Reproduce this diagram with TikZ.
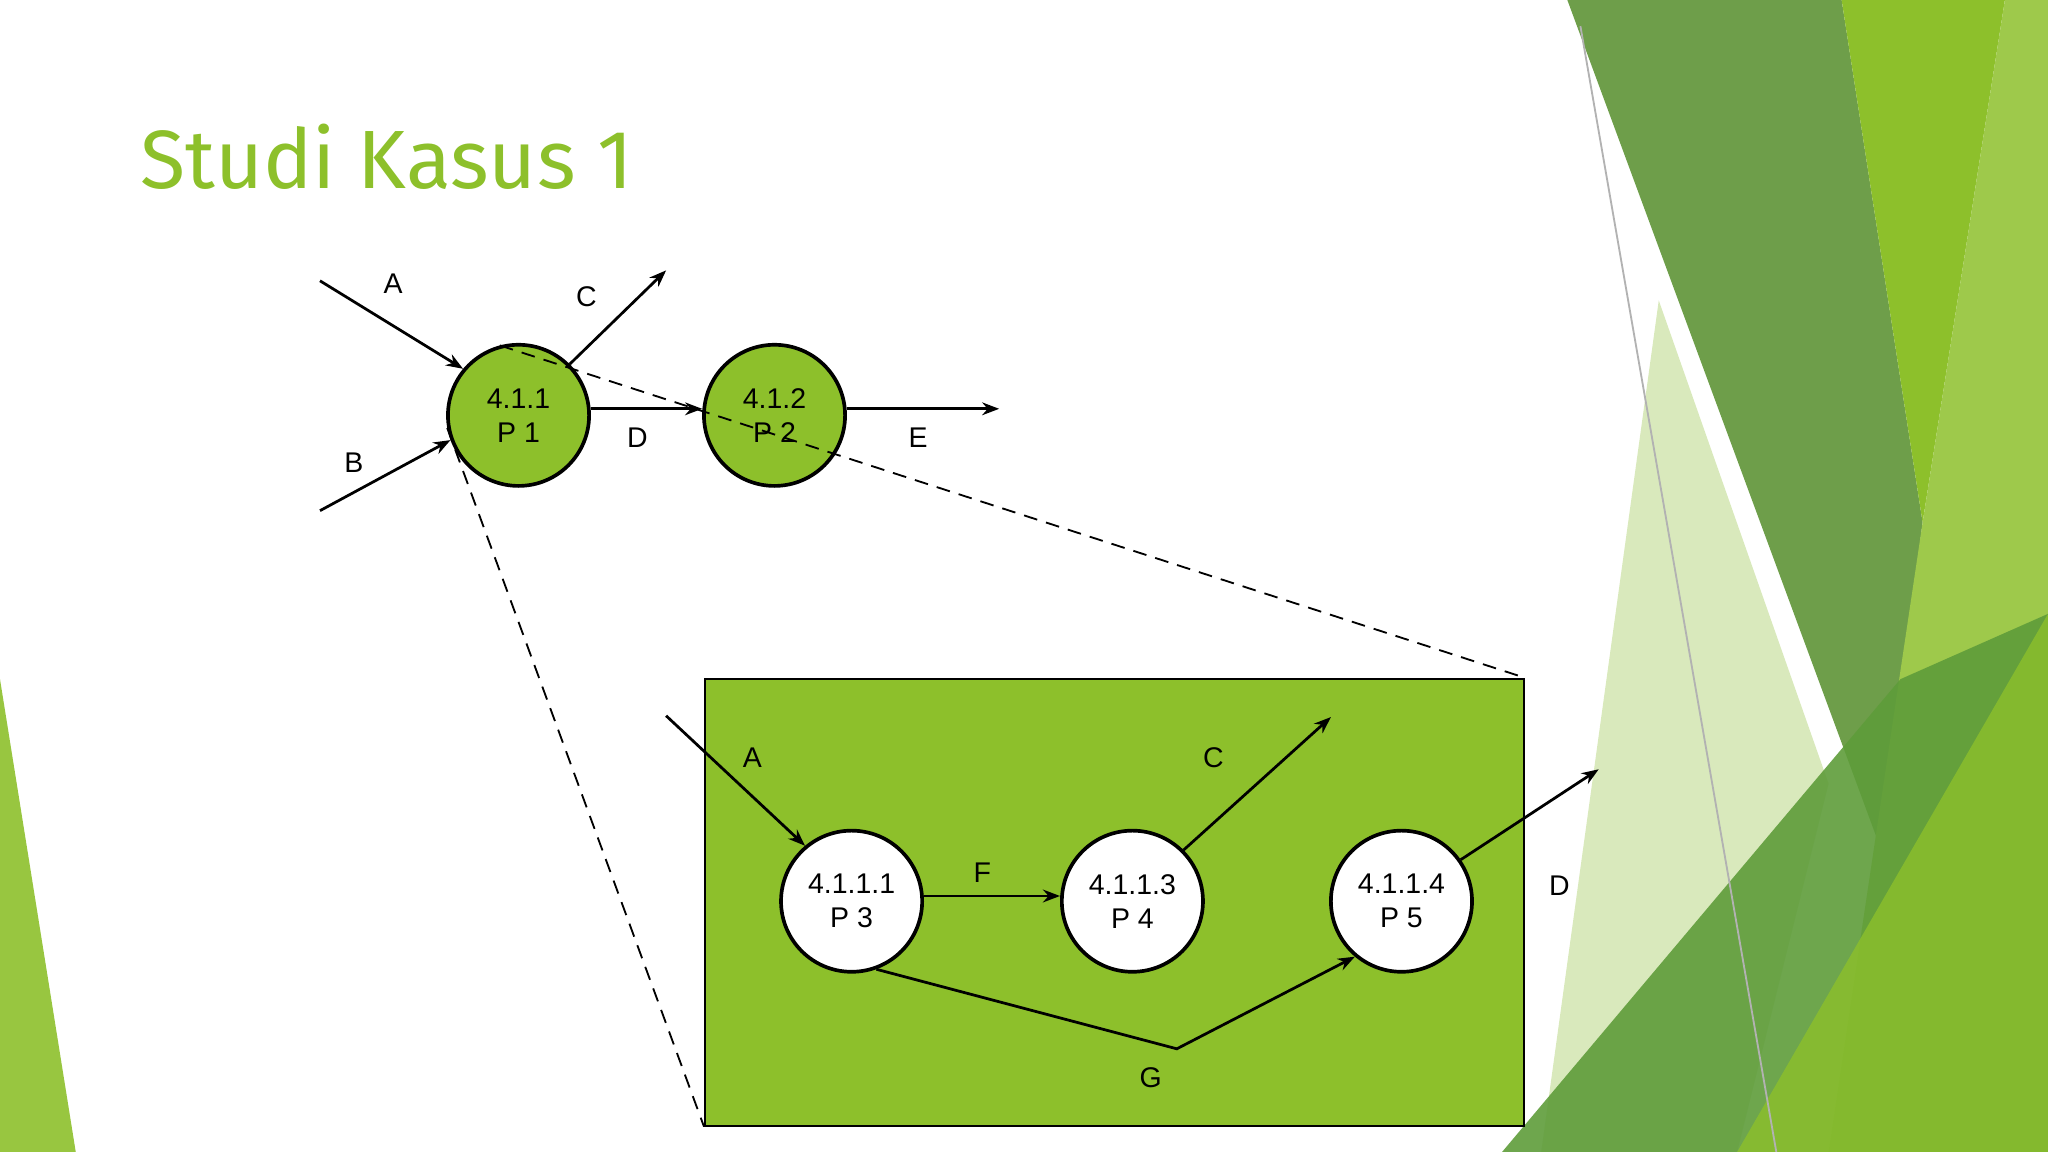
\documentclass[tikz,border=0pt]{standalone}
\usepackage{fontspec}
\setmainfont{Liberation Sans}
\newfontfamily\titlefont{Fira Sans}
\usetikzlibrary{arrows.meta,positioning}
\definecolor{leaf}{HTML}{8DC02B}
\definecolor{moss}{HTML}{6E9E4A}
\definecolor{deep}{HTML}{5E9C3A}
\definecolor{pale}{HTML}{C9E0A0}
\tikzset{
  proc/.style={circle,draw,thick,minimum size=1.08cm,inner sep=0pt,align=center,font=\fontsize{6.2}{7.4}\selectfont},
  flow/.style={-{Stealth[length=1.3mm]},semithick},
  lbl/.style={font=\fontsize{6.2}{7}\selectfont},
  zoomline/.style={densely dashed,thin}
}
\begin{document}
\begin{tikzpicture}[x=0.01cm,y=-0.01cm]
  \useasboundingbox (0,0) rectangle (1568,882);
  % background shapes
  \fill[leaf!90] (0,520) -- (58,882) -- (0,882) -- cycle;
  \fill[pale!70] (1270,230) -- (1400,600) -- (1330,882) -- (1180,882) -- cycle;
  \fill[moss] (1200,0) -- (1410,0) -- (1472,400) -- (1440,650) -- cycle;
  \fill[leaf] (1410,0) -- (1535,0) -- (1472,400) -- cycle;
  \fill[leaf!85!white] (1535,0) -- (1568,0) -- (1568,882) -- (1400,882) -- (1472,400) -- cycle;
  \fill[deep,opacity=0.9] (1150,882) -- (1455,520) -- (1568,470) -- (1568,882) -- cycle;
  \fill[leaf,opacity=0.8] (1330,882) -- (1568,470) -- (1568,882) -- cycle;
  \draw[gray!60,thin] (1210,20) -- (1360,882);
  % title
  \node[anchor=west,text=leaf,font=\titlefont\fontsize{18}{20}\selectfont] (title) at (95,120) {Studi Kasus 1};
  % upper level
  \node[proc,fill=leaf] (p1) at (397,318) {4.1.1\\P 1};
  \node[proc,fill=leaf] (p2) at (593,318) {4.1.2\\P 2};
  \coordinate (inA) at (245,215);
  \coordinate (inB) at (245,391);
  \coordinate (outC) at (510,207);
  \coordinate (outE) at (765,313);
  \draw[flow] (inA) -- (p1.140);
  \draw[flow] (inB) -- (p1.200);
  \draw[flow] (p1.45) -- (outC);
  \draw[flow] (p1.east |- 0,313) -- (p2.west |- 0,313);
  \draw[flow] (p2.east |- 0,313) -- (outE);
  \node[lbl] (lA) at (301,217) {A};
  \node[lbl] (lB) at (271,354) {B};
  \node[lbl] (lC) at (449,227) {C};
  \node[lbl] (lD) at (488,335) {D};
  \node[lbl] (lE) at (703,335) {E};
  % zoomed box
  \node[draw,fill=leaf,minimum width=6.27cm,minimum height=3.42cm,inner sep=0pt,anchor=north west] (box) at (539,519) {};
  \draw[zoomline] (p1.105) -- (box.north east);
  \draw[zoomline] (p1.190) -- (box.south west);
  \node[proc,fill=white] (p3) at (652,690) {4.1.1.1\\P 3};
  \node[proc,fill=white] (p4) at (867,690) {4.1.1.3\\P 4};
  \node[proc,fill=white] (p5) at (1073,690) {4.1.1.4\\P 5};
  \coordinate (inA2) at (510,548);
  \coordinate (outC2) at (1019,549);
  \coordinate (outD2) at (1224,589);
  \coordinate (bend) at (901,803);
  \draw[flow] (inA2) -- (p3.130);
  \draw[flow] (p3.east |- 0,686) -- (p4.west |- 0,686);
  \draw[flow] (p4.45) -- (outC2);
  \draw[flow] (p5.35) -- (outD2);
  \draw[flow] (p3.-70) -- (bend) -- (p5.-130);
  \node[lbl] (lA2) at (576,580) {A};
  \node[lbl] (lF) at (752,668) {F};
  \node[lbl] (lC2) at (929,580) {C};
  \node[lbl] (lD2) at (1194,678) {D};
  \node[lbl] (lG) at (881,825) {G};
\end{tikzpicture}
\end{document}
